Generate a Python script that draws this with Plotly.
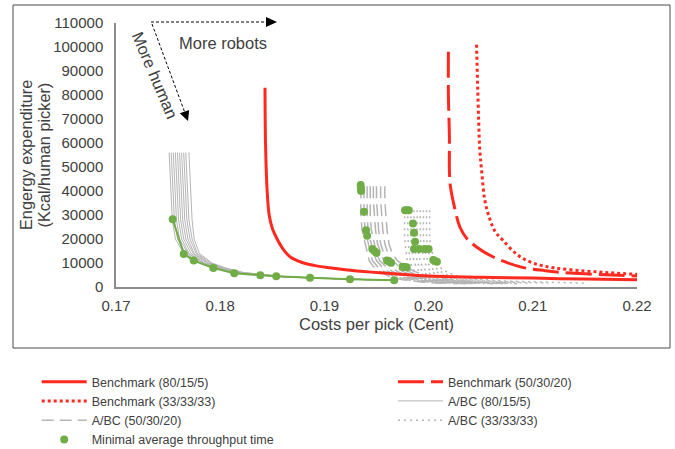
import plotly.graph_objects as go

# ---------------- data ----------------
# Benchmark curves (cost per pick in Cent, energy expenditure kcal/human picker)
bm80_x = [0.1843, 0.18435, 0.1845, 0.1847, 0.1850, 0.1854, 0.1860, 0.1867, 0.1878, 0.1890,
          0.1905, 0.1920, 0.1945, 0.1970, 0.2000, 0.2050, 0.2100, 0.2150, 0.2200]
bm80_y = [83000, 60000, 40500, 30000, 24500, 20500, 16000, 12600, 10300, 9000,
          8000, 7200, 6200, 5400, 4600, 4100, 3700, 3300, 3000]

bm50_x = [0.2019, 0.2019, 0.2020, 0.2020, 0.2021, 0.2025, 0.2030, 0.2037, 0.2046, 0.2062,
          0.2089, 0.2112, 0.2136, 0.2170, 0.2200]
bm50_y = [98000, 80000, 62000, 48000, 41700, 33000, 25000, 20000, 16700, 12500,
          8300, 6800, 5800, 5100, 4600]

bm33_x = [0.2046, 0.2047, 0.2048, 0.2049, 0.2051, 0.2054, 0.2059, 0.2064, 0.2071, 0.2085,
          0.2100, 0.2120, 0.2150, 0.2175, 0.2200]
bm33_y = [101000, 85000, 70000, 58000, 48000, 36000, 28000, 23000, 19600, 13500,
          10000, 8000, 6700, 5900, 5300]

# A/BC (80/15/5): energy levels shared by all lines, costs per line
ab80_y = [56000, 45000, 36000, 28000, 20000, 14000, 10000, 8000, 6000, 4900, 4400, 3800, 3200, 2700]
ab80_x = [
    [0.1751, 0.1752, 0.1753, 0.1754, 0.1757, 0.1765, 0.1780, 0.1793, 0.1811, 0.1837, 0.1853, 0.1885, 0.1923, 0.1966],
    [0.1753, 0.1754, 0.1755, 0.1756, 0.1759, 0.1767, 0.1781, 0.1794, 0.1812, 0.1838, 0.1854, 0.1885, 0.1923, 0.1966],
    [0.1755, 0.1756, 0.1757, 0.1758, 0.1761, 0.1769, 0.1783, 0.1795, 0.1813, 0.1839, 0.1855, 0.1886, 0.1924, 0.1967],
    [0.1757, 0.1758, 0.1759, 0.1760, 0.1763, 0.1770, 0.1784, 0.1797, 0.1815, 0.1840, 0.1856, 0.1886, 0.1924, 0.1967],
    [0.1759, 0.1760, 0.1761, 0.1762, 0.1765, 0.1772, 0.1785, 0.1798, 0.1816, 0.1841, 0.1857, 0.1887, 0.1925, 0.1968],
    [0.1761, 0.1762, 0.1763, 0.1764, 0.1767, 0.1774, 0.1787, 0.1799, 0.1817, 0.1842, 0.1857, 0.1887, 0.1925, 0.1968],
    [0.1763, 0.1764, 0.1765, 0.1766, 0.1769, 0.1775, 0.1788, 0.1800, 0.1818, 0.1843, 0.1858, 0.1888, 0.1926, 0.1969],
    [0.1765, 0.1766, 0.1767, 0.1768, 0.1771, 0.1777, 0.1789, 0.1802, 0.1820, 0.1844, 0.1859, 0.1888, 0.1926, 0.1969],
    [0.1767, 0.1768, 0.1769, 0.1770, 0.1773, 0.1778, 0.1791, 0.1803, 0.1821, 0.1845, 0.1860, 0.1889, 0.1927, 0.1970],
    [0.1770, 0.1771, 0.1772, 0.1773, 0.1775, 0.1780, 0.1792, 0.1805, 0.1823, 0.1846, 0.1861, 0.1890, 0.1928, 0.1970],
]

# A/BC (50/30/20)
ab50_y = [42000, 36000, 30000, 24000, 18000, 14000, 11000, 8500, 6500, 4500, 3000, 2000, 1400]
ab50_x = [
    [0.1935, 0.1935, 0.1935, 0.1936, 0.1939, 0.1941, 0.1943, 0.1947, 0.1953, 0.1962, 0.1975, 0.1995, 0.2020],
    [0.1938, 0.1938, 0.1938, 0.1939, 0.1942, 0.1944, 0.1946, 0.1951, 0.1957, 0.1966, 0.1980, 0.2002, 0.2028],
    [0.1941, 0.1941, 0.1941, 0.1942, 0.1945, 0.1947, 0.1950, 0.1955, 0.1961, 0.1971, 0.1986, 0.2009, 0.2036],
    [0.1944, 0.1944, 0.1944, 0.1945, 0.1948, 0.1950, 0.1953, 0.1959, 0.1965, 0.1976, 0.1992, 0.2016, 0.2044],
    [0.1947, 0.1947, 0.1948, 0.1949, 0.1951, 0.1954, 0.1957, 0.1963, 0.1970, 0.1981, 0.1998, 0.2024, 0.2053],
    [0.1950, 0.1950, 0.1951, 0.1952, 0.1954, 0.1957, 0.1961, 0.1967, 0.1975, 0.1987, 0.2005, 0.2032, 0.2062],
    [0.1954, 0.1954, 0.1955, 0.1956, 0.1958, 0.1961, 0.1965, 0.1972, 0.1980, 0.1993, 0.2012, 0.2040, 0.2072],
    [0.1958, 0.1958, 0.1959, 0.1960, 0.1962, 0.1965, 0.1970, 0.1978, 0.1986, 0.2000, 0.2020, 0.2050, 0.2085],
]

# A/BC (33/33/33)
ab33_y = [32000, 26000, 21000, 16000, 12500, 9500, 7000, 5000, 3500, 2500, 1600]
ab33_x = [
    [0.1977, 0.1977, 0.1977, 0.1978, 0.1979, 0.1980, 0.1982, 0.1986, 0.1993, 0.2005, 0.2025],
    [0.1980, 0.1980, 0.1980, 0.1981, 0.1982, 0.1983, 0.1986, 0.1990, 0.1998, 0.2012, 0.2035],
    [0.1983, 0.1983, 0.1983, 0.1984, 0.1985, 0.1987, 0.1990, 0.1995, 0.2003, 0.2019, 0.2045],
    [0.1986, 0.1986, 0.1986, 0.1987, 0.1988, 0.1990, 0.1993, 0.1999, 0.2009, 0.2027, 0.2056],
    [0.1989, 0.1989, 0.1989, 0.1990, 0.1991, 0.1993, 0.1997, 0.2003, 0.2015, 0.2035, 0.2067],
    [0.1992, 0.1992, 0.1992, 0.1993, 0.1995, 0.1997, 0.2001, 0.2008, 0.2021, 0.2043, 0.2080],
    [0.1995, 0.1995, 0.1995, 0.1996, 0.1998, 0.2000, 0.2005, 0.2013, 0.2027, 0.2052, 0.2095],
    [0.1998, 0.1998, 0.1998, 0.1999, 0.2001, 0.2004, 0.2009, 0.2018, 0.2034, 0.2062, 0.2115],
    [0.2001, 0.2001, 0.2001, 0.2002, 0.2005, 0.2008, 0.2014, 0.2024, 0.2042, 0.2072, 0.2150],
]

# Minimal average throughput time points
min80_x = [0.17544, 0.1765, 0.17746, 0.17934, 0.18135, 0.18385, 0.18538, 0.18862, 0.19246, 0.1967]
min80_y = [28200, 13800, 11000, 7900, 5700, 4900, 4450, 3900, 3200, 2800]
min50_x = [0.19348, 0.19350, 0.19352, 0.1938, 0.1940, 0.1941, 0.1946, 0.1948, 0.1950, 0.1960, 0.1962, 0.1964, 0.1975, 0.1977, 0.1979]
min50_y = [42500, 41200, 40000, 31400, 23600, 21400, 15800, 15000, 14200, 11000, 10600, 10100, 8400, 8300, 8200]
min33_x = [0.19774, 0.1979, 0.1981, 0.1985, 0.1986, 0.1987, 0.1986, 0.1991, 0.1996, 0.2000, 0.20045, 0.2006, 0.2008]
min33_y = [32000, 32000, 32000, 26500, 22600, 18900, 15800, 15800, 15800, 15800, 11250, 10800, 10500]

x_ticks = [0.17, 0.18, 0.19, 0.20, 0.21, 0.22]
y_ticks = list(range(0, 110001, 10000))

# ---------------- styling ----------------
RED = "#FF2A1F"
GRAY = "#B5B5B5"
GREEN = "#70AD47"
TXT = "#404040"
FONT = "Arial, Liberation Sans, sans-serif"

fig = go.Figure()

# A/BC gray lines
for i, xs in enumerate(ab80_x):
    fig.add_trace(go.Scatter(x=xs, y=ab80_y, mode="lines", name="A/BC (80/15/5)",
                             legend="legend2", legendgroup="ab80", showlegend=(i == 0), legendrank=2,
                             line=dict(color=GRAY, width=1)))
for i, xs in enumerate(ab50_x):
    fig.add_trace(go.Scatter(x=xs, y=ab50_y, mode="lines", name="A/BC (50/30/20)",
                             legend="legend", legendgroup="ab50", showlegend=(i == 0), legendrank=3,
                             line=dict(color=GRAY, width=1.5, dash="12px,6px")))
for i, xs in enumerate(ab33_x):
    fig.add_trace(go.Scatter(x=xs, y=ab33_y, mode="lines", name="A/BC (33/33/33)",
                             legend="legend2", legendgroup="ab33", showlegend=(i == 0), legendrank=3,
                             line=dict(color=GRAY, width=1.5, dash="2px,4px")))

# green connecting line for 80/15/5
fig.add_trace(go.Scatter(x=min80_x, y=min80_y, mode="lines", showlegend=False,
                         line=dict(color=GREEN, width=2)))

# Benchmarks
fig.add_trace(go.Scatter(x=bm80_x, y=bm80_y, mode="lines", name="Benchmark (80/15/5)",
                         legend="legend", legendrank=1, line=dict(color=RED, width=3, shape="spline")))
fig.add_trace(go.Scatter(x=bm50_x, y=bm50_y, mode="lines", name="Benchmark (50/30/20)",
                         legend="legend2", legendrank=1,
                         line=dict(color=RED, width=3, dash="26px,7px", shape="spline")))
fig.add_trace(go.Scatter(x=bm33_x, y=bm33_y, mode="lines", name="Benchmark (33/33/33)",
                         legend="legend", legendrank=2,
                         line=dict(color=RED, width=3, dash="dot", shape="spline")))

# Minimal average throughput time markers
fig.add_trace(go.Scatter(x=min80_x + min50_x + min33_x, y=min80_y + min50_y + min33_y,
                         mode="markers", name="Minimal average throughput time",
                         legend="legend", legendrank=4,
                         marker=dict(color=GREEN, size=8)))

# ---------------- layout ----------------
L, R, T, B = 116, 38, 23, 162
W, H = 675, 449
PW, PH = W - L - R, H - T - B


def px(xp):
    return (xp - L) / PW


def py(yp):
    return (H - B - yp) / PH


shapes = [
    # outer frame
    dict(type="rect", xref="paper", yref="paper", x0=px(13), x1=px(670), y0=py(5), y1=py(348),
         line=dict(color="#4a4a4a", width=1), fillcolor="rgba(0,0,0,0)", layer="below"),
    # "More robots" arrow
    dict(type="line", xref="paper", yref="paper", x0=px(151), y0=py(22), x1=px(267), y1=py(22),
         line=dict(color="#000000", width=1, dash="3px,2px")),
    dict(type="path", xref="paper", yref="paper",
         path=f"M {px(277)},{py(22)} L {px(266)},{py(17)} L {px(266)},{py(27)} Z",
         fillcolor="#000000", line=dict(color="#000000", width=0)),
    # "More human" arrow
    dict(type="line", xref="paper", yref="paper", x0=px(152), y0=py(24), x1=px(184.5), y1=py(111.6),
         line=dict(color="#000000", width=1, dash="3px,2px")),
    dict(type="path", xref="paper", yref="paper",
         path=f"M {px(188)},{py(121)} L {px(179.8)},{py(113.3)} L {px(189.2)},{py(109.9)} Z",
         fillcolor="#000000", line=dict(color="#000000", width=0)),
]

annotations = [
    dict(text="More robots", xref="paper", yref="paper", x=px(223), y=py(43),
         xanchor="center", yanchor="middle",
         showarrow=False, font=dict(size=16.5, color=TXT, family=FONT)),
    dict(text="More human", xref="paper", yref="paper", x=px(155), y=py(75), textangle=67,
         xanchor="center", yanchor="middle",
         showarrow=False, font=dict(size=16.5, color=TXT, family=FONT)),
    # y-axis title (two tightly spaced lines)
    dict(text="Engergy expenditure", xref="paper", yref="paper", x=px(26), y=py(155), textangle=-90,
         xanchor="center", yanchor="middle",
         showarrow=False, font=dict(size=16.3, color=TXT, family=FONT)),
    dict(text="(Kcal/human picker)", xref="paper", yref="paper", x=px(43.5), y=py(155), textangle=-90,
         xanchor="center", yanchor="middle",
         showarrow=False, font=dict(size=16.3, color=TXT, family=FONT)),
]

legend_common = dict(orientation="v", xanchor="left", yanchor="top", tracegroupgap=0,
                     itemwidth=45, font=dict(size=12.5, color=TXT, family=FONT),
                     bgcolor="rgba(0,0,0,0)", borderwidth=0)

fig.update_layout(
    width=W, height=H,
    margin=dict(l=L, r=R, t=T, b=B, autoexpand=False),
    paper_bgcolor="white", plot_bgcolor="white",
    font=dict(family=FONT, color=TXT),
    showlegend=True,
    legend=dict(x=px(36.7), y=py(367), **legend_common),
    legend2=dict(x=px(393), y=py(367), **legend_common),
    shapes=shapes,
    annotations=annotations,
    xaxis=dict(range=[0.17, 0.22], tickvals=x_ticks, ticktext=[f"{v:.2f}" for v in x_ticks],
               showgrid=False, zeroline=False, showline=True, linecolor="#8c8c8c", linewidth=1.5,
               ticks="", ticklabelstandoff=4, tickfont=dict(size=15, color=TXT),
               title=dict(text="Costs per pick (Cent)", font=dict(size=16.5, color=TXT), standoff=6)),
    yaxis=dict(range=[0, 110000], tickvals=y_ticks, ticktext=[str(v) for v in y_ticks],
               showgrid=False, zeroline=False, showline=True, linecolor="#8c8c8c", linewidth=1.5,
               ticks="", ticklabelstandoff=8, tickfont=dict(size=15, color=TXT)),
)

fig.write_html("out.html", config={"displayModeBar": False},
               post_script="document.body.style.margin='0';")
